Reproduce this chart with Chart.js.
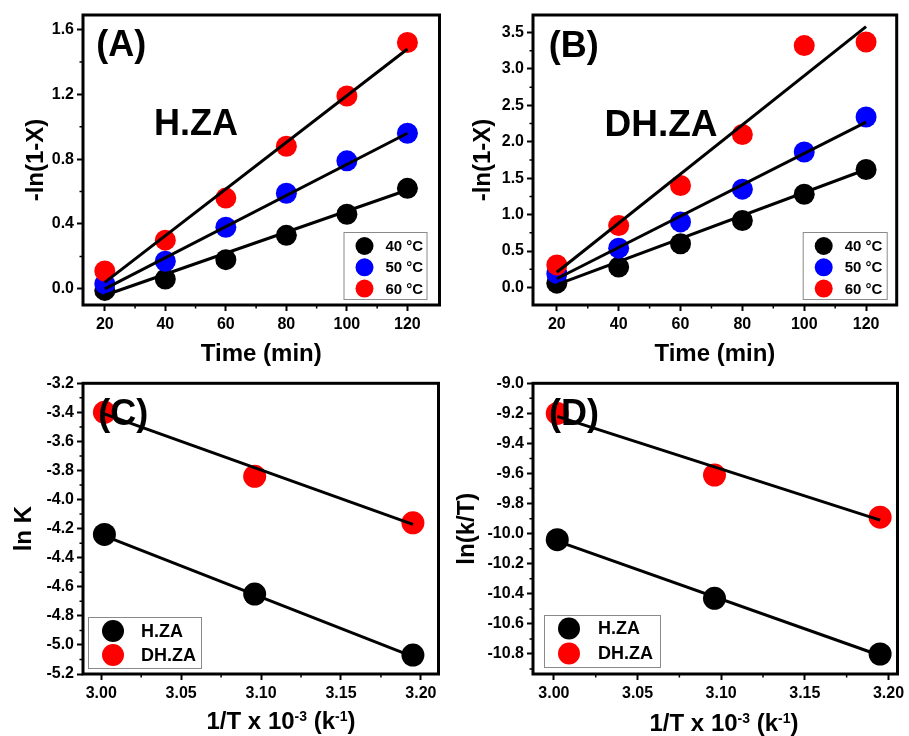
<!DOCTYPE html>
<html>
<head>
<meta charset="utf-8">
<script src="https://cdn.jsdelivr.net/npm/chart.js@4.4.0/dist/chart.umd.min.js"></script>
<style>
  html, body { margin: 0; padding: 0; background: #fff; }
  body { width: 909px; height: 736px; position: relative; overflow: hidden; }
  canvas { position: absolute; }
</style>
</head>
<body>
<canvas id="chartA" width="450" height="368" style="left:0;top:0"></canvas>
<canvas id="chartB" width="459" height="368" style="left:450px;top:0"></canvas>
<canvas id="chartC" width="450" height="368" style="left:0;top:368px"></canvas>
<canvas id="chartD" width="459" height="368" style="left:450px;top:368px"></canvas>
<script>
// --- data ---
const times = [20, 40, 60, 80, 100, 120];
const fitTimes = [20, 120];

// (A) H.ZA, -ln(1-X)
const hza40 = [-0.01, 0.06, 0.18, 0.33, 0.46, 0.62];
const hza50 = [0.03, 0.17, 0.38, 0.59, 0.79, 0.96];
const hza60 = [0.11, 0.30, 0.56, 0.88, 1.19, 1.52];
const hzaFit40 = [-0.04, 0.61];
const hzaFit50 = [0.0, 0.96];
const hzaFit60 = [0.04, 1.48];

// (B) DH.ZA, -ln(1-X)
const dhza40 = [0.06, 0.28, 0.60, 0.92, 1.28, 1.62];
const dhza50 = [0.19, 0.54, 0.90, 1.35, 1.86, 2.34];
const dhza60 = [0.31, 0.85, 1.40, 2.10, 3.32, 3.37];
const dhzaFit40 = [0.04, 1.62];
const dhzaFit50 = [0.12, 2.27];
const dhzaFit60 = [0.21, 3.58];

// (C) ln K and (D) ln(k/T) vs 1/T
const invT = [3.002, 3.096, 3.195];
const fitInvT = [3.002, 3.195];
const lnK_hza = [-4.24, -4.65, -5.07];
const lnK_dhza = [-3.40, -3.84, -4.16];
const lnKFit_hza = [-4.25, -5.08];
const lnKFit_dhza = [-3.41, -4.17];
const lnKT_hza = [-10.04, -10.43, -10.80];
const lnKT_dhza = [-9.20, -9.61, -9.89];
const lnKTFit_hza = [-10.05, -10.81];
const lnKTFit_dhza = [-9.22, -9.91];

// tick values
const timeTicks = [20, 40, 60, 80, 100, 120];
const timeMinor = [30, 50, 70, 90, 110];
const yTicksA = [0.0, 0.4, 0.8, 1.2, 1.6];
const yMinorA = [0.2, 0.6, 1.0, 1.4];
const yTicksB = [0.0, 0.5, 1.0, 1.5, 2.0, 2.5, 3.0, 3.5];
const yMinorB = [0.25, 0.75, 1.25, 1.75, 2.25, 2.75, 3.25];
const invTTicks = [3.00, 3.05, 3.10, 3.15, 3.20];
const invTMinor = [3.025, 3.075, 3.125, 3.175];
const yTicksC = [-5.2, -5.0, -4.8, -4.6, -4.4, -4.2, -4.0, -3.8, -3.6, -3.4, -3.2];
const yMinorC = [-5.1, -4.9, -4.7, -4.5, -4.3, -4.1, -3.9, -3.7, -3.5, -3.3];
const yTicksD = [-10.8, -10.6, -10.4, -10.2, -10.0, -9.8, -9.6, -9.4, -9.2, -9.0];
const yMinorD = [-10.9, -10.7, -10.5, -10.3, -10.1, -9.9, -9.7, -9.5, -9.3, -9.1];

const FONT = '"Liberation Sans", Arial, sans-serif';
const BLACK = '#000000', BLUE = '#0000ff', RED = '#ff0000';

function pts(xs, ys) { return xs.map((x, i) => ({ x: x, y: ys[i] })); }

function pointSet(label, xs, ys, color, r, order) {
  return { label: label, data: pts(xs, ys), showLine: false, pointRadius: r,
    pointHoverRadius: r, backgroundColor: color, borderColor: color,
    pointBorderWidth: 0, order: order };
}
function fitSet(xs, ys) {
  return { data: pts(xs, ys), showLine: true, pointRadius: 0, borderColor: BLACK,
    borderWidth: 3, fill: false, order: 0 };
}

// frame, minor ticks, panel texts, legend and superscript title
function decor(o) {
  return {
    id: 'decor',
    afterDraw(chart) {
      const ctx = chart.ctx, a = chart.chartArea;
      const x = chart.scales.x, y = chart.scales.y;
      ctx.save();
      ctx.strokeStyle = '#000';
      ctx.lineWidth = 1.5;
      ctx.beginPath();
      o.xMinor.forEach(v => { const p = x.getPixelForValue(v); ctx.moveTo(p, a.bottom); ctx.lineTo(p, a.bottom + 3.5); });
      o.yMinor.forEach(v => { const p = y.getPixelForValue(v); ctx.moveTo(a.left, p); ctx.lineTo(a.left - 3.5, p); });
      ctx.stroke();
      ctx.lineWidth = 3;
      ctx.strokeRect(a.left, a.top, a.right - a.left, a.bottom - a.top);

      // panel texts
      ctx.fillStyle = '#000';
      ctx.textAlign = 'center';
      ctx.textBaseline = 'middle';
      o.texts.forEach(t => {
        ctx.font = 'bold ' + t.size + 'px ' + FONT;
        ctx.fillText(t.text, x.getPixelForValue(t.x), y.getPixelForValue(t.y));
      });

      // legend
      const L = o.legend;
      const items = chart.data.datasets.filter(d => d.label);
      items.sort((p, q) => L.order.indexOf(p.label) - L.order.indexOf(q.label));
      const h = L.h, w = L.w;
      const bx = L.corner === 'br' ? a.right - L.dx - w : a.left + L.dx;
      const by = a.bottom - L.dy - h;
      ctx.fillStyle = '#fff';
      ctx.fillRect(bx, by, w, h);
      ctx.strokeStyle = '#8a8a8a';
      ctx.lineWidth = 1;
      ctx.strokeRect(bx + 0.5, by + 0.5, w, h);
      ctx.font = 'bold ' + L.fontSize + 'px ' + FONT;
      ctx.textAlign = 'left';
      items.forEach((d, i) => {
        const cy = by + L.first + i * L.step;
        ctx.fillStyle = d.backgroundColor;
        ctx.beginPath();
        ctx.arc(bx + L.mx, cy, L.r, 0, Math.PI * 2);
        ctx.fill();
        ctx.fillStyle = '#000';
        ctx.fillText(d.label, bx + L.tx, cy + 1);
      });

      // x title with superscripts
      if (o.supTitle) {
        const parts = o.supTitle.parts;
        const big = 'bold 24px ' + FONT, small = 'bold 14px ' + FONT;
        let total = 0;
        parts.forEach(p => { ctx.font = p[1] ? small : big; total += ctx.measureText(p[0]).width; });
        let cx = o.supTitle.cx - total / 2;
        const base = o.supTitle.baseline;
        ctx.textBaseline = 'alphabetic';
        ctx.fillStyle = '#000';
        parts.forEach(p => {
          ctx.font = p[1] ? small : big;
          ctx.fillText(p[0], cx, p[1] ? base - 8 : base);
          cx += ctx.measureText(p[0]).width;
        });
      }
      ctx.restore();
    }
  };
}

function makeChart(id, o) {
  const tickFont = { family: FONT, size: 16, weight: 'bold' };
  const titleFont = { family: FONT, size: 24, weight: 'bold', lineHeight: 1 };
  const grid = { drawOnChartArea: false, drawTicks: true, tickLength: 6, tickWidth: 2, tickColor: '#000', color: '#000' };
  return new Chart(document.getElementById(id), {
    type: 'scatter',
    data: { datasets: o.datasets },
    options: {
      responsive: false,
      animation: false,
      events: [],
      layout: { padding: { top: o.padTop, right: o.padRight, left: 0, bottom: 0 } },
      plugins: { legend: { display: false }, tooltip: { enabled: false } },
      scales: {
        x: {
          type: 'linear', min: o.xMin, max: o.xMax,
          afterBuildTicks: s => { s.ticks = o.xTicks.map(v => ({ value: v })); },
          afterFit: s => { s.height = o.xAxisH; },
          ticks: { font: tickFont, color: '#000', padding: 4, maxRotation: 0,
            callback: v => v.toFixed(o.xDec) },
          grid: grid,
          border: { display: false },
          title: { display: !!o.xTitle, text: o.xTitle || '', color: '#000', font: titleFont,
            padding: { top: 0, bottom: o.xTitlePad } }
        },
        y: {
          type: 'linear', min: o.yMin, max: o.yMax,
          afterBuildTicks: s => { s.ticks = o.yTicks.map(v => ({ value: v })); },
          afterFit: s => { s.width = 83; },
          ticks: { font: tickFont, color: '#000', padding: 3,
            callback: v => v.toFixed(o.yDec) },
          grid: grid,
          border: { display: false },
          title: { display: true, text: o.yTitle, color: '#000', font: titleFont,
            padding: { top: o.yTitlePad, bottom: 0 } }
        }
      }
    },
    plugins: [decor(o)]
  });
}

const legendTemp = { corner: 'br', dx: 13, dy: 6, w: 83, h: 67, first: 14, step: 21.3,
  mx: 21, r: 9, tx: 42, fontSize: 15, order: ['40 °C', '50 °C', '60 °C'] };

makeChart('chartA', {
  padTop: 15, padRight: 3.3, xAxisH: 63,
  xMin: 12.8, xMax: 130.6, yMin: -0.1, yMax: 1.69,
  xTicks: timeTicks, yTicks: yTicksA, xMinor: timeMinor, yMinor: yMinorA,
  xDec: 0, yDec: 1, xTitle: 'Time (min)', xTitlePad: 2,
  yTitle: '-ln(1-X)', yTitlePad: 24,
  datasets: [
    fitSet(fitTimes, hzaFit40), fitSet(fitTimes, hzaFit50), fitSet(fitTimes, hzaFit60),
    pointSet('60 °C', times, hza60, RED, 10.5, 1),
    pointSet('50 °C', times, hza50, BLUE, 10.5, 2),
    pointSet('40 °C', times, hza40, BLACK, 10.5, 3)
  ],
  texts: [{ text: '(A)', x: 25.4, y: 1.50, size: 36 }, { text: 'H.ZA', x: 50.1, y: 1.01, size: 36 }],
  legend: legendTemp
});

makeChart('chartB', {
  padTop: 15, padRight: 12.3, xAxisH: 63,
  xMin: 12.3, xMax: 129.9, yMin: -0.24, yMax: 3.74,
  xTicks: timeTicks, yTicks: yTicksB, xMinor: timeMinor, yMinor: yMinorB,
  xDec: 0, yDec: 1, xTitle: 'Time (min)', xTitlePad: 2,
  yTitle: '-ln(1-X)', yTitlePad: 21,
  datasets: [
    fitSet(fitTimes, dhzaFit40), fitSet(fitTimes, dhzaFit50), fitSet(fitTimes, dhzaFit60),
    pointSet('60 °C', times, dhza60, RED, 10.5, 1),
    pointSet('50 °C', times, dhza50, BLUE, 10.5, 2),
    pointSet('40 °C', times, dhza40, BLACK, 10.5, 3)
  ],
  texts: [{ text: '(B)', x: 25.5, y: 3.30, size: 36 }, { text: 'DH.ZA', x: 53.7, y: 2.22, size: 37 }],
  legend: Object.assign({}, legendTemp, { dx: 10, w: 84 })
});

const invTTitle = [['1/T x 10', false], ['-3', true], [' (k', false], ['-1', true], [')', false]];

makeChart('chartC', {
  padTop: 15.3, padRight: 3.3, xAxisH: 62,
  xMin: 2.9886, xMax: 3.211, yMin: -5.2, yMax: -3.2,
  xTicks: invTTicks, yTicks: yTicksC, xMinor: invTMinor, yMinor: yMinorC,
  xDec: 2, yDec: 1, xTitle: null, xTitlePad: 0,
  yTitle: 'ln K', yTitlePad: 12,
  datasets: [
    fitSet(fitInvT, lnKFit_hza), fitSet(fitInvT, lnKFit_dhza),
    pointSet('DH.ZA', invT, lnK_dhza, RED, 11.5, 1),
    pointSet('H.ZA', invT, lnK_hza, BLACK, 11.5, 2)
  ],
  texts: [{ text: '(C)', x: 3.0138, y: -3.42, size: 36 }],
  legend: { corner: 'bl', dx: 5, dy: 6, w: 113, h: 51, first: 14, step: 24,
    mx: 25, r: 11, tx: 53, fontSize: 18, order: ['H.ZA', 'DH.ZA'] },
  supTitle: { parts: invTTitle, cx: 281, baseline: 361 }
});

makeChart('chartD', {
  padTop: 15.3, padRight: 10.7, xAxisH: 62,
  xMin: 2.9875, xMax: 3.2054, yMin: -10.933, yMax: -9.0,
  xTicks: invTTicks, yTicks: yTicksD, xMinor: invTMinor, yMinor: yMinorD,
  xDec: 2, yDec: 1, xTitle: null, xTitlePad: 0,
  yTitle: 'ln(k/T)', yTitlePad: 5.5,
  datasets: [
    fitSet(fitInvT, lnKTFit_hza), fitSet(fitInvT, lnKTFit_dhza),
    pointSet('DH.ZA', invT, lnKT_dhza, RED, 11.5, 1),
    pointSet('H.ZA', invT, lnKT_hza, BLACK, 11.5, 2)
  ],
  texts: [{ text: '(D)', x: 3.012, y: -9.21, size: 36 }],
  legend: { corner: 'bl', dx: 11, dy: 7, w: 116, h: 52, first: 13.5, step: 25,
    mx: 25, r: 11, tx: 54, fontSize: 18, order: ['H.ZA', 'DH.ZA'] },
  supTitle: { parts: invTTitle, cx: 274, baseline: 363 }
});
</script>
</body>
</html>
